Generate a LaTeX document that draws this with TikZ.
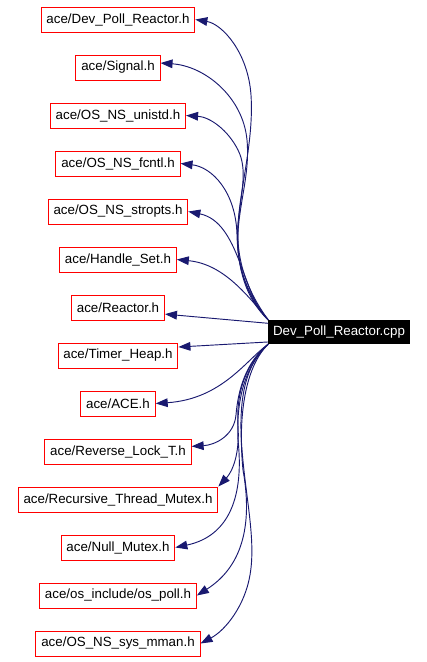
\documentclass[tikz,border=0pt]{standalone}
\usepackage{fontspec}
\setmainfont{Liberation Sans}
\usetikzlibrary{arrows.meta}
\definecolor{edgeblue}{RGB}{25,25,112}
\tikzset{
  hfile/.style={draw=red, line width=0.75pt, minimum height=18.75pt, inner xsep=4pt, inner ysep=0pt, font=\fontsize{10}{12}\selectfont},
  srcfile/.style={fill=black, text=white, minimum height=18pt, inner xsep=3.5pt, inner ysep=0pt, font=\fontsize{10}{12}\selectfont},
  incl/.style={edgeblue, line width=0.7pt, -{Triangle[length=9pt,width=6.5pt]}},
}
\begin{document}
\begin{tikzpicture}[x=0.75pt,y=-0.75pt]
\useasboundingbox (0,0) rectangle (427,662);
\node[srcfile] (cpp) at (339,332) {Dev\_Poll\_Reactor.cpp};
\foreach \i/\txt in {1/Dev\_Poll\_Reactor.h, 2/Signal.h, 3/OS\_NS\_unistd.h, 4/OS\_NS\_fcntl.h,
    5/OS\_NS\_stropts.h, 6/Handle\_Set.h, 7/Reactor.h, 8/Timer\_Heap.h, 9/ACE.h,
    10/Reverse\_Lock\_T.h, 11/Recursive\_Thread\_Mutex.h, 12/Null\_Mutex.h,
    13/{os\_include/os\_poll.h}, 14/OS\_NS\_sys\_mman.h}
  \node[hfile] (h\i) at (118,{19.5+48*(\i-1)}) {ace/\txt};
% upper fan
\draw[incl] (cpp.north west) .. controls (248,292) and (236,262) .. (238,225) .. controls (240,188) and (254,140) .. (251,95) .. controls (248,52) and (222,24) .. (h1.east);
\draw[incl] (cpp.north west) .. controls (248,295) and (236,268) .. (238,232) .. controls (240,200) and (250,172) .. (247,140) .. controls (243,97) and (205,66) .. (h2.6);
\draw[incl] (cpp.north west) .. controls (246,297) and (235,262) .. (238,225) .. controls (241,192) and (248,170) .. (238,150) .. controls (228,130) and (210,117) .. (h3.east);
\draw[incl] (cpp.north west) .. controls (245,298) and (238,268) .. (237,235) .. controls (236,192) and (212,167) .. (h4.east);
\draw[incl] (cpp.north west) .. controls (242,296) and (240,222) .. (h5.east);
\draw[incl] (cpp.north west) .. controls (245,292) and (222,264) .. (h6.east);
\draw[incl] (cpp.173) -- (h7.-8);
\draw[incl] (cpp.188) -- (h8.8);
% lower fan
\draw[incl] (cpp.south west) .. controls (246,360) and (222,399) .. (h9.east);
\draw[incl] (cpp.south west) .. controls (246,362) and (238,390) .. (236,415) .. controls (234,436) and (215,445) .. (h10.4);
\draw[incl] (cpp.south west) .. controls (246,364) and (236,392) .. (238,425) .. controls (240,455) and (232,472) .. (h11.north east);
\draw[incl] (cpp.south west) .. controls (245,366) and (236,400) .. (238,440) .. controls (244,495) and (230,536) .. (h12.east);
\draw[incl] (cpp.south west) .. controls (244,368) and (238,420) .. (243,470) .. controls (252,520) and (245,565) .. (h13.east);
\draw[incl] (cpp.south west) .. controls (245,365) and (238,400) .. (242,450) .. controls (246,500) and (256,540) .. (250,575) .. controls (245,605) and (226,630) .. (h14.east);
\end{tikzpicture}
\end{document}
